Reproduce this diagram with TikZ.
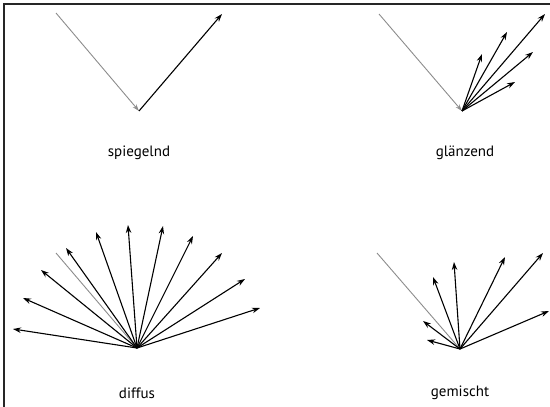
\documentclass[tikz,border=0pt]{standalone}
\usepackage{fontspec}
\setmainfont{PT Sans}
\usetikzlibrary{arrows.meta}
\begin{document}
\begin{tikzpicture}[x=1pt,y=-1pt,
  ray/.style={line width=1.1pt,black,-{Stealth[length=8pt,width=5.5pt]}},
  inray/.style={line width=0.9pt,black!45,-{Stealth[length=7pt,width=4.5pt]}},
  inline/.style={line width=0.9pt,black!45},
  lbl/.style={font=\fontsize{15}{17}\selectfont,inner sep=0pt}]
\useasboundingbox (0,0) rectangle (550,407);
\draw[line width=2pt,black!85] (4,407) -- (4,4) -- (550,4);
% spiegelnd
\coordinate (o1) at (139,111);
\coordinate (s1) at (56,13);
\coordinate (t1) at (222,14);
\draw[inray] (s1) -- (o1);
\draw[ray] (o1) -- (t1);
\node[lbl] (l1) at (139,153) {spiegelnd};
% glaenzend
\coordinate (o2) at (462,111);
\coordinate (s2) at (379,14);
\draw[inray] (s2) -- (o2);
\foreach \x/\y [count=\i] in {545/14,507/32,482/54,533/52,515/82}
  {\coordinate (g\i) at (\x,\y); \draw[ray] (o2) -- (g\i);}
\node[lbl] (l2) at (465,153) {glänzend};
% diffus
\coordinate (o3) at (137,348);
\coordinate (s3) at (56,253);
\draw[inline] (s3) -- (o3);
\foreach \x/\y [count=\i] in {13/329,23/298,41/270,66/248,96/232,128/225,163/226,193/236,222/253,245/279,260/308}
  {\coordinate (d\i) at (\x,\y); \draw[ray] (o3) -- (d\i);}
\node[lbl] (l3) at (137,393) {diffus};
% gemischt
\coordinate (o4) at (460,349);
\coordinate (s4) at (377,253);
\draw[inline] (s4) -- (o4);
\foreach \x/\y [count=\i] in {427/340,423/321,433/277,454/262,505/257,543/253,549/311}
  {\coordinate (m\i) at (\x,\y); \draw[ray] (o4) -- (m\i);}
\node[lbl] (l4) at (460,393) {gemischt};
\end{tikzpicture}
\end{document}
